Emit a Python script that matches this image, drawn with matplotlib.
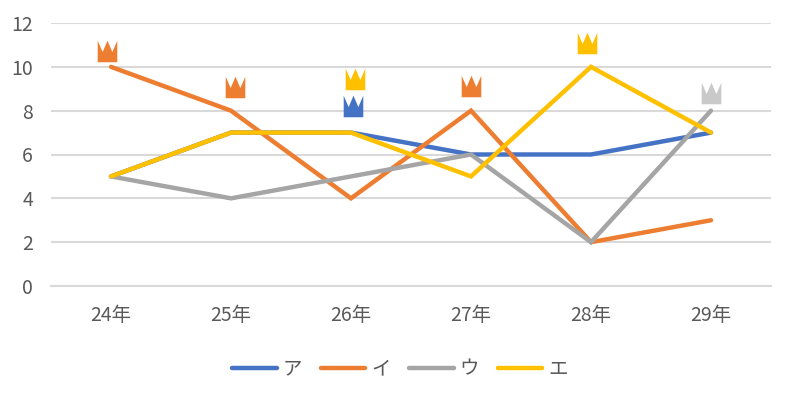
import matplotlib
matplotlib.use("Agg")
import matplotlib.pyplot as plt
from matplotlib.path import Path

plt.rcParams['font.family'] = ['Noto Sans CJK JP', 'DejaVu Sans']

categories = ['24年', '25年', '26年', '27年', '28年', '29年']
series_a = [5, 7, 7, 6, 6, 7]
series_i = [10, 8, 4, 8, 2, 3]
series_u = [5, 4, 5, 6, 2, 8]
series_e = [5, 7, 7, 5, 10, 7]
series_names = ['ア', 'イ', 'ウ', 'エ']
y_ticks = [0, 2, 4, 6, 8, 10, 12]

BLUE, ORANGE, GRAY, YELLOW = '#4472C4', '#ED7D31', '#A5A5A5', '#FFC000'
colors = [BLUE, ORANGE, GRAY, YELLOW]

# Crown marks: category position, value height, colour
crown_x = [-0.03, 1.03, 2.03, 2.02, 3.0, 3.97, 5.0]
crown_y = [10.73, 9.09, 9.45, 8.22, 9.13, 11.1, 8.81]
crown_c = [ORANGE, ORANGE, YELLOW, BLUE, ORANGE, YELLOW, '#C9C9C9']

crown = Path([(-0.91, 1.0), (-0.45, -0.05), (0, 1.0), (0.45, -0.05),
              (0.91, 1.0), (0.91, -1.0), (-0.91, -1.0), (-0.91, 1.0)])

fig = plt.figure(figsize=(7.89, 3.95), dpi=100, facecolor='white')
W, H = 789, 395
ax = fig.add_axes([51 / W, 1 - 286 / H, 720 / W, (286 - 23) / H])
ax.set_facecolor('white')

for vals, col, name in zip([series_a, series_i, series_u, series_e], colors, series_names):
    ax.plot(range(len(categories)), vals, color=col, lw=3.2, label=name,
            solid_capstyle='round', solid_joinstyle='miter', zorder=3, clip_on=False)

for x, y, c in zip(crown_x, crown_y, crown_c):
    ax.plot([x], [y], marker=crown, markersize=15.5, color=c, markeredgewidth=0,
            linestyle='none', zorder=4, clip_on=False)

ax.set_xlim(-0.5, 5.5)
ax.set_ylim(0, 12)
ax.set_xticks(range(len(categories)))
ax.set_xticklabels(categories)
ax.set_yticks(y_ticks)
ax.grid(axis='y', color='#D9D9D9', lw=1.5, zorder=0)
ax.set_axisbelow(True)
for s in ['top', 'right', 'left']:
    ax.spines[s].set_visible(False)
ax.spines['bottom'].set_color('#D9D9D9')
ax.spines['bottom'].set_linewidth(1.5)
ax.tick_params(axis='both', length=0, labelsize=14, labelcolor='#595959')
ax.tick_params(axis='x', pad=14)
ax.tick_params(axis='y', pad=13)

leg = ax.legend(ncol=4, loc='center', bbox_to_anchor=(400 / W, 1 - 369 / H),
                bbox_transform=fig.transFigure, frameon=False, fontsize=14,
                handlelength=2.3, handletextpad=0.3, columnspacing=0.95,
                labelcolor='#595959')
fig.savefig('out.png', dpi=100, facecolor='white')
